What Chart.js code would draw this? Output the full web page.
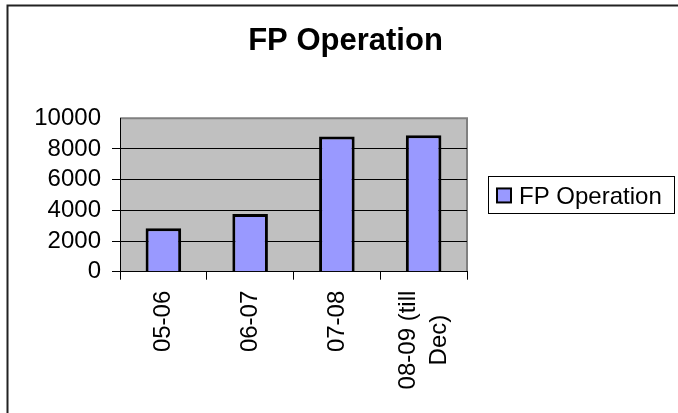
<!DOCTYPE html>
<html>
<head>
<meta charset="utf-8">
<script src="https://cdn.jsdelivr.net/npm/chart.js@4/dist/chart.umd.min.js"></script>
<style>
html,body{margin:0;padding:0;background:#fff;}
#wrap{width:678px;height:413px;position:relative;}
</style>
</head>
<body>
<div id="wrap"><canvas id="c" width="678" height="413"></canvas></div>
<script>
const categories = [["05-06"], ["06-07"], ["07-08"], ["08-09 (till", "Dec)"]];
const seriesName = "FP Operation";
const values = [2830, 3760, 8800, 8890];
const yTickLabels = ["0", "2000", "4000", "6000", "8000", "10000"];
const yMin = 0, yMax = 10000, yStep = 2000;

const FONT = '"Liberation Sans", Arial, sans-serif';
const BAR_FILL = '#9999FF';

const frameAndBg = {
  id: 'frameAndBg',
  beforeDraw(chart) {
    const ctx = chart.ctx, a = chart.chartArea;
    ctx.save();
    ctx.fillStyle = '#fff';
    ctx.fillRect(0, 0, chart.width, chart.height);
    ctx.strokeStyle = '#222';
    ctx.lineWidth = 2;
    ctx.strokeRect(7.5, 5.5, chart.width + 20, chart.height + 20);
    ctx.fillStyle = '#C0C0C0';
    ctx.fillRect(a.left, a.top, a.right - a.left, a.bottom - a.top);
    ctx.strokeStyle = '#808080';
    ctx.lineWidth = 2;
    ctx.beginPath();
    ctx.moveTo(a.left, a.top);
    ctx.lineTo(a.right, a.top);
    ctx.lineTo(a.right, a.bottom);
    ctx.stroke();
    ctx.restore();

    const s = chart.scales.x;
    const items = s.getLabelItems(a);
    ctx.save();
    ctx.font = '24px ' + FONT;
    items.forEach(it => {
      if (Array.isArray(it.label) && it.label.length > 1) {
        const n = it.label.length;
        const lh = it.font.lineHeight;
        const w = Math.max(...it.label.map(t => ctx.measureText(t).width));
        it.options.translation[0] -= lh * (n - 1) / 2;
        it.options.textAlign = 'center';
        it.options.translation[1] += w / 2;
      }
    });
    ctx.restore();
  }
};

const customLegend = {
  id: 'customLegend',
  afterDraw(chart) {
    const ctx = chart.ctx, a = chart.chartArea;
    const ds = chart.data.datasets[0];
    const cy = (a.top + a.bottom) / 2;
    const left = a.right + 21, right = chart.width - 4;
    const top = cy - 18.5, h = 37;
    ctx.save();
    ctx.strokeStyle = '#000';
    ctx.lineWidth = 1;
    ctx.strokeRect(Math.round(left) + 0.5, Math.round(top) + 0.5, Math.round(right - left), h);
    ctx.fillStyle = ds.backgroundColor;
    const sx = left + 9, sy = cy - 6.5;
    ctx.fillRect(sx, sy, 14, 14);
    ctx.strokeStyle = '#000';
    ctx.lineWidth = 2;
    ctx.strokeRect(sx, sy, 14, 14);
    ctx.fillStyle = '#000';
    ctx.font = '24px ' + FONT;
    ctx.textBaseline = 'alphabetic';
    ctx.fillText(ds.label, left + 31, cy + 9.5);
    ctx.restore();
  }
};

new Chart(document.getElementById('c'), {
  type: 'bar',
  data: {
    labels: categories,
    datasets: [{
      label: seriesName,
      data: values,
      backgroundColor: BAR_FILL,
      borderColor: '#000',
      borderWidth: 3,
      categoryPercentage: 1.0,
      barPercentage: 0.41
    }]
  },
  options: {
    responsive: false,
    animation: false,
    devicePixelRatio: 1,
    layout: { padding: { left: 13, right: 0, top: 0, bottom: 0 } },
    plugins: {
      legend: { display: false },
      tooltip: { enabled: false },
      title: {
        display: true,
        text: 'FP Operation',
        color: '#000',
        font: { family: FONT, size: 31, weight: 'bold', lineHeight: 1.2 },
        padding: { top: 23, bottom: 58 }
      }
    },
    scales: {
      x: {
        grid: { display: true, drawOnChartArea: false, drawTicks: true, tickLength: 8, color: '#000', lineWidth: 1, offset: true },
        border: { display: true, color: '#000', width: 1 },
        ticks: {
          color: '#000',
          font: { family: FONT, size: 24, lineHeight: 1.3 },
          maxRotation: 90, minRotation: 90,
          padding: 11,
          autoSkip: false
        },
        afterFit(scale) { scale.height = 141.3; }
      },
      y: {
        min: yMin, max: yMax,
        grid: {
          drawTicks: true, tickLength: 8,
          color: ctx => (ctx.tick && ctx.tick.value === yMax) ? 'rgba(0,0,0,0)' : '#000',
          lineWidth: 1
        },
        border: { display: true, color: '#000', width: 1 },
        ticks: {
          stepSize: yStep,
          autoSkip: false,
          color: '#000',
          font: { family: FONT, size: 24 },
          padding: 11,
          callback: (v, i) => yTickLabels[i]
        },
        afterFit(scale) { scale.width = 107; }
      },
      yR: {
        position: 'right',
        display: true,
        grid: { display: false },
        border: { display: false },
        ticks: { display: false },
        afterFit(scale) { scale.width = 211; }
      }
    }
  },
  plugins: [frameAndBg, customLegend]
});
</script>
</body>
</html>
